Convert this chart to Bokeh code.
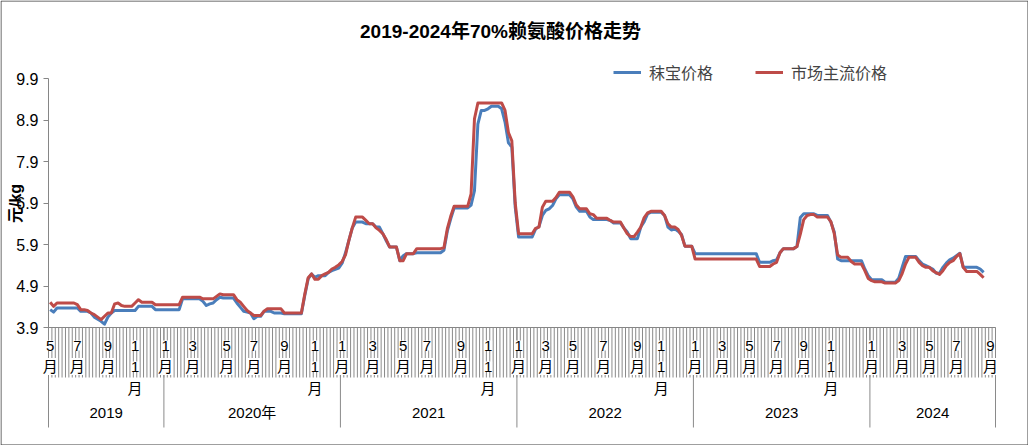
import numpy as np
from bokeh.plotting import figure
from bokeh.models import (Range1d, LinearAxis, FixedTicker, PrintfTickFormatter,
                          Legend, LegendItem, Label)
from bokeh.core.properties import value
from bokeh.embed import file_html
from bokeh.resources import INLINE

# ---------------- data ----------------
TITLE = "2019-2024年70%赖氨酸价格走势"
UNIT = "元/kg"
SERIES_NAMES = ["秣宝价格", "市场主流价格"]
YEARS = ["2019", "2020年", "2021", "2022", "2023", "2024"]
WEEKS_PER_YEAR = [34, 52, 52, 52, 52, 37]
MONTH_TICK_INDEX = [0, 8, 17, 25, 34, 42, 52, 60, 69, 78, 86, 95, 104, 111, 121, 129,
                    138, 146, 154, 163, 173, 180, 190, 198, 206, 214, 222, 230,
                    242, 251, 259, 267, 277]
MONTH_TICK_LABELS = ["5月", "7月", "9月", "11月",
                     "1月", "3月", "5月", "7月", "9月", "11月",
                     "1月", "3月", "5月", "7月", "9月", "11月",
                     "1月", "3月", "5月", "7月", "9月", "11月",
                     "1月", "3月", "5月", "7月", "9月", "11月",
                     "1月", "3月", "5月", "7月", "9月"]
Y_TICKS = [3.9, 4.9, 5.9, 6.9, 7.9, 8.9, 9.9]

mobao_2019 = [4.33, 4.27, 4.37, 4.37, 4.37, 4.37, 4.37, 4.37, 4.37, 4.29, 4.29, 4.29,
              4.25, 4.15, 4.10, 4.05, 3.98, 4.15, 4.25, 4.31, 4.31, 4.31, 4.31, 4.31,
              4.31, 4.31, 4.41, 4.41, 4.41, 4.41, 4.41, 4.33, 4.33, 4.33]
mobao_2020 = [4.33, 4.33, 4.33, 4.33, 4.33, 4.59, 4.59, 4.59, 4.59, 4.59, 4.59, 4.53,
              4.43, 4.47, 4.49, 4.57, 4.63, 4.61, 4.61, 4.61, 4.61, 4.49, 4.39, 4.29,
              4.27, 4.25, 4.11, 4.17, 4.17, 4.29, 4.29, 4.29, 4.25, 4.25, 4.25, 4.23,
              4.23, 4.23, 4.23, 4.23, 4.23, 4.67, 5.07, 5.19, 5.11, 5.15, 5.15, 5.15,
              5.23, 5.27, 5.30, 5.33]
mobao_2021 = [5.45, 5.70, 6.00, 6.30, 6.44, 6.44, 6.44, 6.40, 6.40, 6.40, 6.32, 6.32,
              6.16, 5.99, 5.84, 5.84, 5.84, 5.51, 5.63, 5.68, 5.68, 5.68, 5.70, 5.70,
              5.70, 5.70, 5.70, 5.70, 5.70, 5.70, 5.76, 6.22, 6.52, 6.78, 6.78, 6.78,
              6.78, 6.78, 6.85, 7.20, 8.80, 9.13, 9.13, 9.17, 9.23, 9.23, 9.23, 9.17,
              8.85, 8.35, 8.25, 6.80]
mobao_2022 = [6.08, 6.08, 6.08, 6.08, 6.08, 6.27, 6.33, 6.60, 6.72, 6.76, 6.84, 7.00,
              7.10, 7.10, 7.10, 7.10, 7.00, 6.80, 6.70, 6.70, 6.70, 6.56, 6.50, 6.50,
              6.50, 6.50, 6.50, 6.48, 6.42, 6.42, 6.42, 6.30, 6.20, 6.04, 6.04, 6.04,
              6.32, 6.45, 6.64, 6.68, 6.68, 6.68, 6.68, 6.60, 6.32, 6.25, 6.28, 6.22,
              6.14, 5.86, 5.86, 5.86]
mobao_2023 = [5.68, 5.68, 5.68, 5.68, 5.68, 5.68, 5.68, 5.68, 5.68, 5.68, 5.68, 5.68,
              5.68, 5.68, 5.68, 5.68, 5.68, 5.68, 5.68, 5.47, 5.47, 5.47, 5.47, 5.51,
              5.53, 5.70, 5.80, 5.80, 5.80, 5.80, 5.85, 6.55, 6.64, 6.64, 6.64, 6.64,
              6.60, 6.60, 6.60, 6.60, 6.44, 6.20, 5.55, 5.51, 5.51, 5.51, 5.51, 5.51,
              5.51, 5.51, 5.31, 5.15]
mobao_2024 = [5.05, 5.05, 5.05, 5.05, 4.99, 4.99, 4.99, 4.99, 5.09, 5.35, 5.61, 5.61,
              5.61, 5.61, 5.51, 5.43, 5.39, 5.35, 5.31, 5.21, 5.21, 5.35, 5.45, 5.53,
              5.57, 5.63, 5.69, 5.35, 5.35, 5.35, 5.35, 5.35, 5.31, 5.23]

market_2019 = [4.51, 4.41, 4.49, 4.49, 4.49, 4.49, 4.49, 4.49, 4.45, 4.33, 4.33, 4.31,
               4.25, 4.21, 4.15, 4.09, 4.17, 4.25, 4.25, 4.47, 4.49, 4.43, 4.41, 4.41,
               4.41, 4.49, 4.57, 4.51, 4.51, 4.51, 4.51, 4.45, 4.45, 4.45]
market_2020 = [4.45, 4.45, 4.45, 4.45, 4.45, 4.63, 4.63, 4.63, 4.63, 4.63, 4.63, 4.59,
               4.59, 4.59, 4.59, 4.65, 4.71, 4.69, 4.69, 4.69, 4.69, 4.57, 4.51, 4.41,
               4.31, 4.25, 4.19, 4.19, 4.19, 4.29, 4.35, 4.35, 4.35, 4.35, 4.35, 4.25,
               4.25, 4.25, 4.25, 4.25, 4.25, 4.70, 5.10, 5.19, 5.06, 5.06, 5.15, 5.19,
               5.23, 5.31, 5.35, 5.41]
market_2021 = [5.49, 5.65, 6.00, 6.30, 6.56, 6.56, 6.56, 6.48, 6.40, 6.40, 6.30, 6.24,
               6.16, 6.02, 5.84, 5.84, 5.84, 5.51, 5.51, 5.68, 5.68, 5.68, 5.80, 5.80,
               5.80, 5.80, 5.80, 5.80, 5.80, 5.80, 5.82, 6.28, 6.58, 6.82, 6.82, 6.82,
               6.82, 6.82, 7.12, 8.93, 9.31, 9.31, 9.31, 9.31, 9.31, 9.31, 9.31, 9.31,
               9.13, 8.60, 8.40, 6.90]
market_2022 = [6.16, 6.16, 6.16, 6.16, 6.16, 6.29, 6.32, 6.80, 6.94, 6.94, 6.94, 7.03,
               7.16, 7.16, 7.16, 7.16, 7.05, 6.85, 6.76, 6.76, 6.76, 6.64, 6.62, 6.53,
               6.53, 6.53, 6.53, 6.48, 6.44, 6.44, 6.44, 6.30, 6.16, 6.09, 6.09, 6.20,
               6.32, 6.55, 6.66, 6.70, 6.70, 6.70, 6.70, 6.60, 6.40, 6.32, 6.32, 6.26,
               6.12, 5.86, 5.86, 5.86]
market_2023 = [5.55, 5.55, 5.55, 5.55, 5.55, 5.55, 5.55, 5.55, 5.55, 5.55, 5.55, 5.55,
               5.55, 5.55, 5.55, 5.55, 5.55, 5.55, 5.55, 5.37, 5.37, 5.37, 5.37, 5.43,
               5.47, 5.70, 5.80, 5.80, 5.80, 5.80, 5.85, 6.15, 6.50, 6.60, 6.62, 6.62,
               6.56, 6.56, 6.56, 6.56, 6.45, 6.16, 5.65, 5.59, 5.59, 5.59, 5.49, 5.43,
               5.43, 5.43, 5.27, 5.08]
market_2024 = [5.03, 5.00, 5.00, 5.00, 4.97, 4.97, 4.97, 4.97, 5.03, 5.20, 5.43, 5.59,
               5.59, 5.59, 5.47, 5.39, 5.35, 5.35, 5.27, 5.22, 5.18, 5.27, 5.39, 5.47,
               5.51, 5.61, 5.68, 5.35, 5.25, 5.25, 5.25, 5.25, 5.18, 5.10]

# ---------------- assembly ----------------
mobao = mobao_2019 + mobao_2020 + mobao_2021 + mobao_2022 + mobao_2023 + mobao_2024
market = market_2019 + market_2020 + market_2021 + market_2022 + market_2023 + market_2024
n_cat = sum(WEEKS_PER_YEAR)
xs = list(range(len(mobao)))

FONT = "Liberation Sans, Noto Sans CJK SC"
BLUE = "#4A7EBB"
RED = "#BE4B48"
AXIS_GRAY = "#868686"
TICK_GRAY = "#8a8a8a"

# page geometry (canvas pixels)
W, H = 1028, 445
PLOT_L, PLOT_R = 48, 995          # left / right edge of the category axis
PLOT_T, AXIS_Y = 78, 327          # y of top tick value / y of the bottom tick value
BAND_B = 427                      # bottom of the category band

px_per_cat = (PLOT_R - PLOT_L) / n_cat
x_start = -0.5 - PLOT_L / px_per_cat
x_end = n_cat - 0.5 + (W - PLOT_R) / px_per_cat
px_per_val = (AXIS_Y - PLOT_T) / (Y_TICKS[-1] - Y_TICKS[0])
y_start = Y_TICKS[0] - (H - AXIS_Y) / px_per_val
y_end = Y_TICKS[-1] + PLOT_T / px_per_val

p = figure(width=W, height=H, output_backend="svg", toolbar_location=None,
           x_range=Range1d(x_start, x_end), y_range=Range1d(y_start, y_end),
           x_axis_type=None, y_axis_type=None, title=None,
           min_border_left=0, min_border_right=0, min_border_top=0, min_border_bottom=0)
p.outline_line_color = None
p.background_fill_color = "white"
p.border_fill_color = "white"
# pixel-space ranges for decorations of the category band and the frame
p.extra_x_ranges = {"cx": Range1d(start=0, end=W)}
p.extra_y_ranges = {"cy": Range1d(start=H, end=0)}

# value axis, placed at the first category boundary
yaxis = LinearAxis(ticker=FixedTicker(ticks=Y_TICKS),
                   formatter=PrintfTickFormatter(format="%.1f"),
                   fixed_location=-0.5)
yaxis.axis_line_color = None
yaxis.major_tick_line_color = AXIS_GRAY
yaxis.major_tick_out = 5
yaxis.major_tick_in = 0
yaxis.minor_tick_line_color = None
yaxis.major_label_standoff = 5
yaxis.major_label_text_font = FONT
yaxis.major_label_text_font_size = "16px"
yaxis.major_label_text_color = "black"
p.add_layout(yaxis, "left")

# axis lines
p.segment(x0=[-0.5], y0=[Y_TICKS[0]], x1=[-0.5], y1=[Y_TICKS[-1]],
          line_color=AXIS_GRAY, line_width=1)
p.segment(x0=[-0.5], y0=[Y_TICKS[0]], x1=[n_cat - 0.5], y1=[Y_TICKS[0]],
          line_color=AXIS_GRAY, line_width=1)

# category ticks and year separators
bounds = [k - 0.5 for k in range(n_cat + 1)]
p.segment(x0=bounds, y0=[AXIS_Y] * len(bounds), x1=bounds, y1=[AXIS_Y + 50] * len(bounds),
          y_range_name="cy", line_color=TICK_GRAY, line_width=1)
year_bounds = [-0.5]
for c in WEEKS_PER_YEAR:
    year_bounds.append(year_bounds[-1] + c)
p.segment(x0=year_bounds, y0=[AXIS_Y] * len(year_bounds), x1=year_bounds,
          y1=[BAND_B] * len(year_bounds), y_range_name="cy",
          line_color=TICK_GRAY, line_width=1)

# month labels written vertically, one character per row
row_y = [345, 366, 388]
lx, ly, lt = [], [], []
for idx, lab in zip(MONTH_TICK_INDEX, MONTH_TICK_LABELS):
    for j, ch in enumerate(lab):
        lx.append(idx)
        ly.append(row_y[j])
        lt.append(ch)
p.text(x=lx, y=ly, text=lt, y_range_name="cy", text_align="center",
       text_baseline="middle", text_font=value(FONT), text_font_size="15px",
       text_color="black", background_fill_color="white")

# year labels
yc = [(year_bounds[i] + year_bounds[i + 1]) / 2 for i in range(len(YEARS))]
p.text(x=yc, y=[412] * len(YEARS), text=YEARS, y_range_name="cy", text_align="center",
       text_baseline="middle", text_font=value(FONT), text_font_size="15px",
       text_color="black")

# series
r_blue = p.line(xs, mobao, line_color=BLUE, line_width=3, line_join="round")
r_red = p.line(xs, market, line_color=RED, line_width=3, line_join="round")

legend = Legend(items=[LegendItem(label=SERIES_NAMES[0], renderers=[r_blue]),
                       LegendItem(label=SERIES_NAMES[1], renderers=[r_red])],
                location=(613, H - 84), orientation="horizontal",
                glyph_width=28, glyph_height=20, label_standoff=8, spacing=42,
                padding=0, margin=0, border_line_color=None, background_fill_alpha=0,
                label_text_font=FONT, label_text_font_size="16px")
p.add_layout(legend)

p.add_layout(Label(x=500, y=H - 31, x_units="screen", y_units="screen",
                   text=TITLE, text_align="center", text_baseline="middle",
                   text_font=FONT, text_font_size="19px", text_font_style="bold",
                   text_color="black"))
p.add_layout(Label(x=15, y=H - 203, x_units="screen", y_units="screen",
                   text=UNIT, angle=np.pi / 2, text_align="center", text_baseline="middle",
                   text_font=FONT, text_font_size="16px", text_font_style="bold",
                   text_color="black"))

# outer frame of the chart
p.quad(left=[0.5], right=[W - 0.5], top=[0.5], bottom=[H - 0.5], fill_color=None,
       line_color="#3f3f3f", line_width=1, x_range_name="cx", y_range_name="cy")

open("out.html", "w").write(file_html(p, INLINE))
